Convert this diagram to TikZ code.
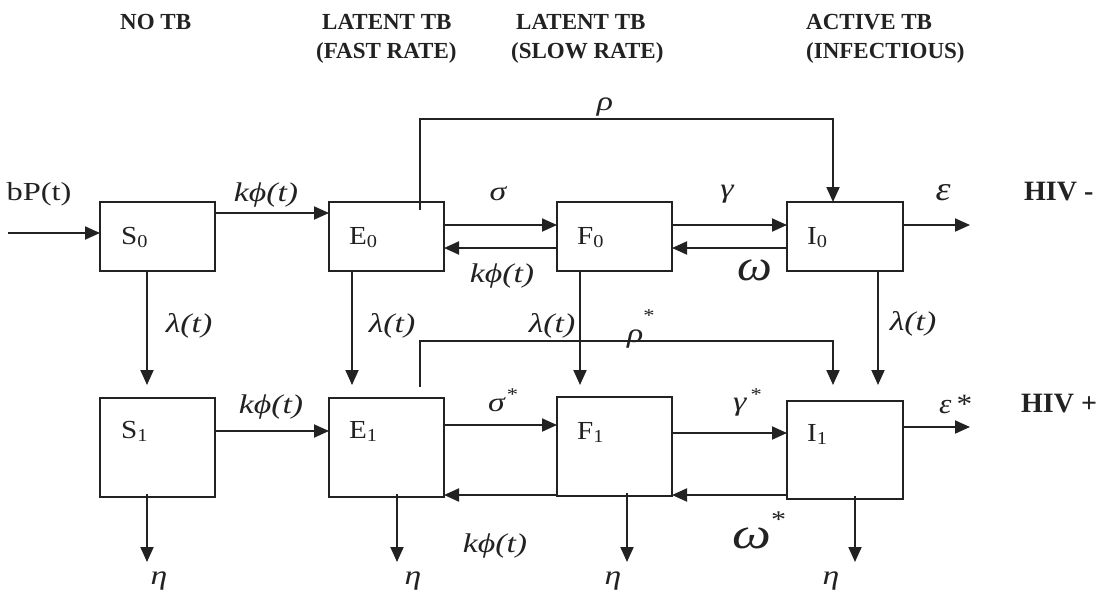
\documentclass[tikz,border=0pt]{standalone}
\usepackage{fontspec}
\setmainfont{Liberation Serif}
\newfontfamily\labfont[FakeStretch=1.12]{Liberation Serif}
\newfontfamily\ratefont[FakeStretch=1.25]{Liberation Serif}
\usetikzlibrary{arrows.meta}
\definecolor{ink}{HTML}{222222}
% small raised asterisk: #1 = raise, #2 = size in pt
\newcommand\upstar[2]{\raisebox{#1}{\fontsize{#2}{#2}\selectfont\upshape *}}
\tikzset{
  box/.style={draw=ink, line width=1.9pt, anchor=north west, inner sep=0pt, outer sep=0pt},
  wire/.style={draw=ink, line width=1.9pt},
  flow/.style={wire, -{Triangle[length=15pt,width=13pt]}},
  cname/.style={anchor=base west, inner sep=0pt, text=ink, font=\labfont\fontsize{26}{30}\selectfont},
  rate/.style={anchor=base, inner sep=0pt, text=ink, font=\ratefont\itshape\fontsize{27}{30}\selectfont},
  plain/.style={anchor=base, inner sep=0pt, text=ink, font=\ratefont\fontsize{26}{30}\selectfont},
  head/.style={anchor=base west, inner sep=0pt, text=ink, font=\bfseries\fontsize{23}{27}\selectfont},
  hiv/.style={anchor=base west, inner sep=0pt, text=ink, font=\bfseries\fontsize{28}{32}\selectfont},
}
\begin{document}
\begin{tikzpicture}[x=1pt,y=-1pt]
\useasboundingbox[fill=white] (0,0) rectangle (1109,597);

% ---- column headers
\node[head] (h1)  at (120,30) {NO TB};
\node[head] (h2a) at (322,30) {LATENT TB};
\node[head] (h2b) at (316,58) {(FAST RATE)};
\node[head] (h3a) at (516,30) {LATENT TB};
\node[head] (h3b) at (511,58) {(SLOW RATE)};
\node[head] (h4a) at (806,30) {ACTIVE TB};
\node[head] (h4b) at (806,58) {(INFECTIOUS)};

% ---- compartments, HIV-negative row
\node[box, minimum width=115pt, minimum height=69pt] (S0) at (100,202) {};
\node[box, minimum width=115pt, minimum height=69pt] (E0) at (329,202) {};
\node[box, minimum width=115pt, minimum height=69pt] (F0) at (557,202) {};
\node[box, minimum width=116pt, minimum height=69pt] (I0) at (787,202) {};
% ---- compartments, HIV-positive row
\node[box, minimum width=115pt, minimum height=99pt] (S1) at (100,398) {};
\node[box, minimum width=115pt, minimum height=99pt] (E1) at (329,398) {};
\node[box, minimum width=115pt, minimum height=99pt] (F1) at (557,397) {};
\node[box, minimum width=116pt, minimum height=98pt] (I1) at (787,401) {};

% ---- compartment names
\node[cname] (S0n) at (121,244) {S\textsubscript{0}};
\node[cname] (E0n) at (349,244) {E\textsubscript{0}};
\node[cname] (F0n) at (577,244) {F\textsubscript{0}};
\node[cname] (I0n) at (807,244) {I\textsubscript{0}};
\node[cname] (S1n) at (121,438) {S\textsubscript{1}};
\node[cname] (E1n) at (349,438) {E\textsubscript{1}};
\node[cname] (F1n) at (577,439) {F\textsubscript{1}};
\node[cname] (I1n) at (807,441) {I\textsubscript{1}};

% ---- reference levels for the connectors
\coordinate (src)  at (8,233);
\coordinate (yA)   at (0,213);
\coordinate (yB)   at (0,225);
\coordinate (yC)   at (0,248);
\coordinate (yD)   at (0,431);
\coordinate (yE)   at (0,425);
\coordinate (yF)   at (0,433);
\coordinate (yG)   at (0,495);
\coordinate (yH)   at (0,427);
\coordinate (epsA) at (970,225);
\coordinate (epsB) at (970,427);
\coordinate (tipRow) at (0,385);
\coordinate (etaRow) at (0,562);
\coordinate (rhoA) at (0,119);
\coordinate (rhoB) at (0,341);
\coordinate (xS)  at (147,0);
\coordinate (xE)  at (352,0);
\coordinate (xF)  at (580,0);
\coordinate (xI)  at (878,0);
\coordinate (xEe) at (397,0);
\coordinate (xFe) at (627,0);
\coordinate (xIe) at (855,0);
\coordinate (xR)  at (420,0);
\coordinate (xRt) at (833,0);

% ---- horizontal flows, HIV-negative row
\draw[flow] (src) -- (src -| S0.west);
\draw[flow] (S0.east |- yA) -- (E0.west |- yA);
\draw[flow] (E0.east |- yB) -- (F0.west |- yB);
\draw[flow] (F0.west |- yC) -- (E0.east |- yC);
\draw[flow] (F0.east |- yB) -- (I0.west |- yB);
\draw[flow] (I0.west |- yC) -- (F0.east |- yC);
\draw[flow] (I0.east |- yB) -- (epsA);
% ---- horizontal flows, HIV-positive row
\draw[flow] (S1.east |- yD) -- (E1.west |- yD);
\draw[flow] (E1.east |- yE) -- (F1.west |- yE);
\draw[flow] (F1.west |- yG) -- (E1.east |- yG);
\draw[flow] (F1.east |- yF) -- (I1.west |- yF);
\draw[flow] (I1.west |- yG) -- (F1.east |- yG);
\draw[flow] (I1.east |- yH) -- (epsB);

% ---- HIV infection, lambda(t)
\draw[flow] (S0.south -| xS) -- (xS |- tipRow);
\draw[flow] (E0.south -| xE) -- (xE |- tipRow);
\draw[flow] (F0.south -| xF) -- (xF |- tipRow);
\draw[flow] (I0.south -| xI) -- (xI |- tipRow);

% ---- fast progression rho and rho*
\draw[flow] ([yshift=-8pt]E0.north -| xR) |- (rhoA -| xRt) -- (I0.north -| xRt);
\draw[flow] ([yshift=11pt]E1.north -| xR) |- (rhoB -| xRt) -- (xRt |- tipRow);

% ---- deaths eta
\draw[flow] ([yshift=3pt]S1.south -| xS)  -- (xS |- etaRow);
\draw[flow] ([yshift=3pt]E1.south -| xEe) -- (xEe |- etaRow);
\draw[flow] ([yshift=3pt]F1.south -| xFe) -- (xFe |- etaRow);
\draw[flow] ([yshift=3pt]I1.south -| xIe) -- (xIe |- etaRow);

% ---- rates, upper row
\node[plain] (lbP) at (39,200) {bP(t)};
\node[rate] (lk1) at (266,201) {kϕ(t)};
\node[rate] (lsig) at (498,200) {σ};
\node[rate] (lk2) at (502,282) {kϕ(t)};
\node[rate] (lgam) at (727,197) {γ};
\node[rate, font=\labfont\itshape\fontsize{44}{50}\selectfont] (lom) at (755,280) {ω};
\node[rate, font=\labfont\itshape\fontsize{34}{40}\selectfont] (leps) at (943,200) {ε};
\node[hiv] (hneg) at (1024,200) {HIV -};
\node[rate] (lrho) at (605,110) {ρ};

% ---- rates between rows
\node[rate] (lla1) at (189,332) {λ(t)};
\node[rate] (lla2) at (392,332) {λ(t)};
\node[rate] (lla3) at (552,332) {λ(t)};
\node[rate] (lla4) at (913,330) {λ(t)};
\node[rate, anchor=base west] (lrhos) at (627,342) {ρ\upstar{21pt}{18}};

% ---- rates, lower row
\node[rate] (lk3) at (271,413) {kϕ(t)};
\node[rate, anchor=base west] (lsigs) at (488,411) {σ\kern2pt\upstar{11pt}{18}};
\node[rate, anchor=base west] (lgams) at (733,410) {γ\kern4pt\upstar{10pt}{18}};
\node[rate, anchor=base west, font=\labfont\itshape\fontsize{28}{32}\selectfont] (lepss) at (939,413) {ε\kern5pt{\upshape *}};
\node[hiv] (hpos) at (1021,412) {HIV +};
\node[rate] (lk4) at (495,552) {kϕ(t)};
\node[rate, anchor=base west] (loms) at (732,548) {{\fontsize{44}{50}\selectfont ω}\upstar{21pt}{24}};

% ---- death rates
\node[rate] (le1) at (159,584) {η};
\node[rate] (le2) at (413,584) {η};
\node[rate] (le3) at (613,584) {η};
\node[rate] (le4) at (831,584) {η};
\end{tikzpicture}
\end{document}
